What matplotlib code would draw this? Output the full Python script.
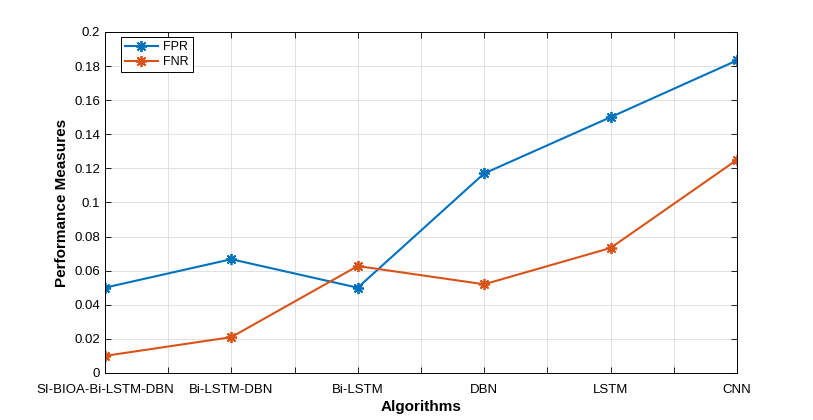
import matplotlib
matplotlib.use("Agg")
import matplotlib.pyplot as plt
import numpy as np

plt.rcParams["font.family"] = ["Liberation Sans", "DejaVu Sans"]

algorithms = ["SI-BIOA-Bi-LSTM-DBN", "Bi-LSTM-DBN", "Bi-LSTM", "DBN", "LSTM", "CNN"]
fpr = [0.05, 0.0667, 0.05, 0.117, 0.15, 0.1833]
fnr = [0.01, 0.021, 0.0627, 0.052, 0.0733, 0.125]

fig = plt.figure(figsize=(8.13, 4.2), dpi=100)
ax = fig.add_axes([0.129, 0.112, 0.7775, 0.812])

x = np.arange(len(algorithms))
star = (8, 2, 0)
ax.plot(x, fpr, color="#0072BD", lw=1.5, marker=star, ms=8, mew=1.3, label="FPR")
ax.plot(x, fnr, color="#D95319", lw=1.5, marker=star, ms=8, mew=1.3, label="FNR")

ax.set_xlim(0, len(algorithms) - 1)
ax.set_ylim(0, 0.2)
xt = np.arange(0, len(algorithms) - 0.9, 0.5)
ax.set_xticks(xt)
ax.set_xticklabels([algorithms[int(t)] if t == int(t) else "" for t in xt])
yt = np.arange(0, 0.201, 0.02)
ax.set_yticks(yt)
ax.set_yticklabels(["0"] + [f"{v:g}" for v in yt[1:]])
ax.tick_params(labelsize=9.5, direction="in", length=4, width=0.6, top=True, right=True,
               labeltop=False, labelright=False)
ax.tick_params(axis="x", pad=8)
ax.grid(True, color="#dcdcdc", lw=0.6)
for s in ax.spines.values():
    s.set_linewidth(0.7)

ax.set_xlabel("Algorithms", fontsize=11, fontweight="bold", labelpad=3)
ax.set_ylabel("Performance Measures", fontsize=11, fontweight="bold", labelpad=4)

leg = ax.legend(loc="upper left", bbox_to_anchor=(0.025, 0.985), borderaxespad=0, fontsize=9,
                fancybox=False, edgecolor="black", framealpha=1, handlelength=2.6,
                borderpad=0.35, labelspacing=0.2, handletextpad=0.4)
leg.get_frame().set_linewidth(0.7)

fig.savefig("out.png", dpi=100)
